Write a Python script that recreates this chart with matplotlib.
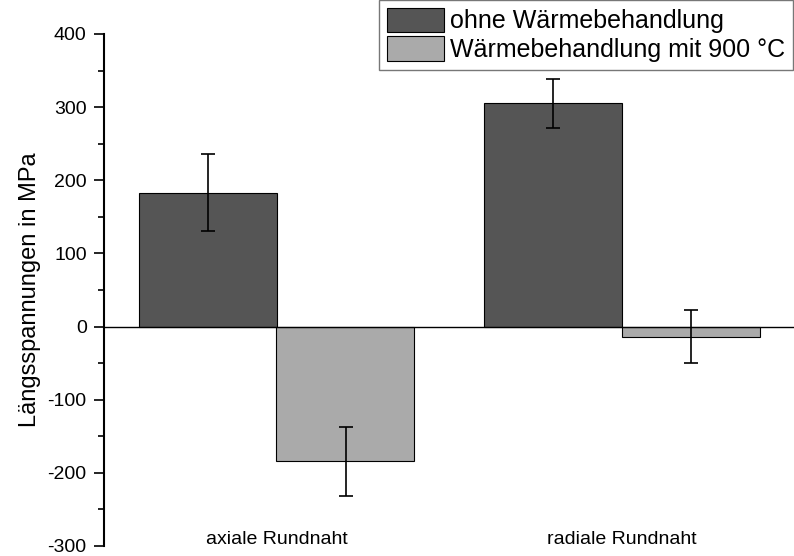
import matplotlib
matplotlib.use("Agg")
import matplotlib.pyplot as plt
from matplotlib.ticker import MultipleLocator
import numpy as np

plt.rcParams['font.family'] = ['Liberation Sans', 'DejaVu Sans']
plt.rcParams['axes.unicode_minus'] = False

categories = ['axiale Rundnaht', 'radiale Rundnaht']
series_names = ['ohne Wärmebehandlung', 'Wärmebehandlung mit 900 °C']
ohne = [183, 305]
ohne_err = [53, 33]
mit_900 = [-184, -14]
mit_900_err = [47, 36]

x = np.arange(1, len(categories) + 1)
width = 0.4

fig = plt.figure(figsize=(7.94, 5.56), dpi=100)
ax = fig.add_axes([104 / 794, 10 / 556, 690 / 794, 512 / 556])

err_kw = dict(ecolor='black', elinewidth=1.2, capsize=5, capthick=1.2)
ax.bar(x - width / 2, ohne, width, yerr=ohne_err, color='#555555',
       edgecolor='black', linewidth=0.8, label=series_names[0], error_kw=err_kw)
ax.bar(x + width / 2, mit_900, width, yerr=mit_900_err, color='#aaaaaa',
       edgecolor='black', linewidth=0.8, label=series_names[1], error_kw=err_kw)

ax.axhline(0, color='black', linewidth=1.0, zorder=3)

ax.set_xlim(0.5, 2.5)
ax.set_ylim(-300, 400)
ax.yaxis.set_major_locator(MultipleLocator(100))
ax.yaxis.set_minor_locator(MultipleLocator(50))

for side in ['top', 'right', 'bottom']:
    ax.spines[side].set_visible(False)
ax.spines['left'].set_linewidth(1.5)

ax.tick_params(axis='y', which='major', direction='out', length=7.5, width=1.2,
               labelsize=14, pad=5)
ax.tick_params(axis='y', which='minor', direction='out', length=4, width=1.2)
ax.set_xticks(x)
ax.set_xticklabels(categories)
ax.tick_params(axis='x', length=0, labelsize=14, pad=-11)

ax.set_ylabel('Längsspannungen in MPa', fontsize=17, labelpad=5)

leg = ax.legend(loc='upper right', bbox_to_anchor=(793 / 794, 1.0),
                bbox_transform=fig.transFigure, frameon=True, fancybox=False,
                fontsize=18, handlelength=2.3, handleheight=1.15,
                handletextpad=0.25, labelspacing=0.12, borderpad=0.3,
                borderaxespad=0)
leg.get_frame().set_edgecolor('#555555')
leg.get_frame().set_linewidth(1.0)

fig.savefig('out.png', dpi=100)
